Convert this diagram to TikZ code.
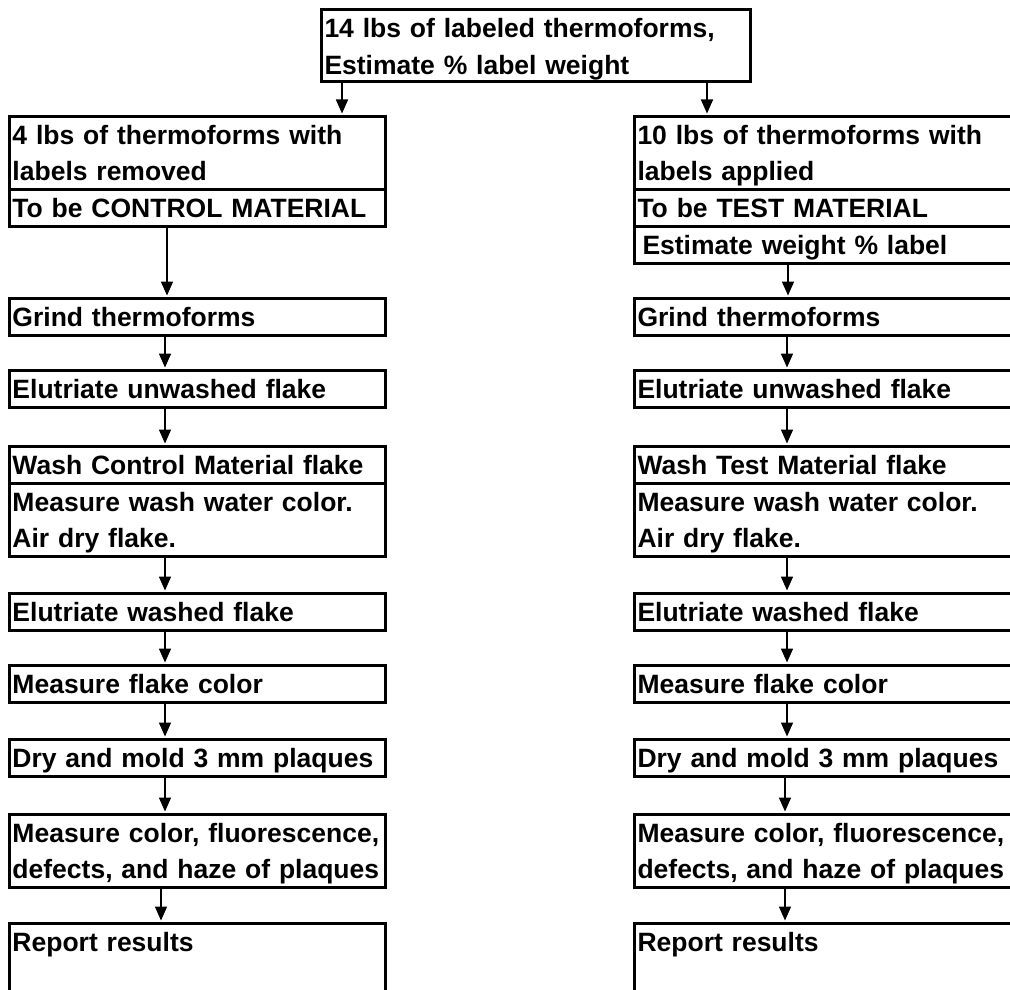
\documentclass[tikz,border=0pt]{standalone}
\usepackage{fontspec}
\setmainfont{Liberation Sans}
\usetikzlibrary{arrows.meta}
\begin{document}
\begin{tikzpicture}[x=1pt,y=-1pt,
  box/.style={draw, line width=3pt, anchor=north west, inner xsep=3pt, inner ysep=0pt,
    align=left, font=\fontsize{26.5}{36.5}\selectfont\bfseries, text height=19pt, text depth=0pt},
  lbox/.style={box, minimum width=376pt, text width=370pt},
  rbox/.style={box, minimum width=390pt, text width=384pt},
  one/.style={minimum height=37pt},
  two/.style={minimum height=73pt, text depth=36.5pt},
  last/.style={text height=28pt, text depth=80pt},
  arr/.style={line width=1.5pt, -{Triangle[width=12pt,length=14pt]}, shorten >=1.5pt}]
\useasboundingbox (0,0) rectangle (1010,990);
\clip (0,0) rectangle (1010,990);
\fill[white] (0,0) rectangle (1010,990);

\node[box, minimum width=429pt, text width=423pt, minimum height=72pt, text depth=34pt] (top) at (320,8)
  {14 lbs of labeled thermoforms,\\Estimate \% label weight};

% left column
\node[lbox,two] (l1) at (8,115) {4 lbs of thermoforms with\\labels removed};
\node[lbox,one] (l1b) at (8,188) {To be CONTROL MATERIAL};
\node[lbox,one] (l2) at (8,297) {Grind thermoforms};
\node[lbox,one] (l3) at (8,369) {Elutriate unwashed flake};
\node[lbox,one] (l4) at (8,445) {Wash Control Material flake};
\node[lbox,two] (l4b) at (8,482) {Measure wash water color.\\Air dry flake.};
\node[lbox,one] (l5) at (8,592) {Elutriate washed flake};
\node[lbox,one] (l6) at (8,664) {Measure flake color};
\node[lbox,one] (l7) at (8,738) {Dry and mold 3 mm plaques};
\node[lbox,two] (l8) at (8,813) {Measure color, fluorescence,\\defects, and haze of plaques};
\node[lbox,last] (l9) at (8,922) {Report results};

% right column
\node[rbox,two] (r1) at (633,115) {10 lbs of thermoforms with\\labels applied};
\node[rbox,one] (r1b) at (633,188) {To be TEST MATERIAL};
\node[rbox,one] (r1c) at (633,225) {\hspace*{5pt}Estimate weight \% label};
\node[rbox,one] (r2) at (633,297) {Grind thermoforms};
\node[rbox,one] (r3) at (633,369) {Elutriate unwashed flake};
\node[rbox,one] (r4) at (633,445) {Wash Test Material flake};
\node[rbox,two] (r4b) at (633,482) {Measure wash water color.\\Air dry flake.};
\node[rbox,one] (r5) at (633,592) {Elutriate washed flake};
\node[rbox,one] (r6) at (633,664) {Measure flake color};
\node[rbox,one] (r7) at (633,738) {Dry and mold 3 mm plaques};
\node[rbox,two] (r8) at (633,813) {Measure color, fluorescence,\\defects, and haze of plaques};
\node[rbox,last] (r9) at (633,922) {Report results};

% connector x positions
\coordinate (xa) at (342,0);
\coordinate (xb) at (707,0);
\coordinate (xl) at (167,0);
\coordinate (xL) at (165,0);
\coordinate (xL2) at (161,0);
\coordinate (xr) at (788,0);
\coordinate (xR) at (787,0);
\coordinate (xR2) at (785,0);

\draw[arr] (top.south -| xa) -- (l1.north -| xa);
\draw[arr] (top.south -| xb) -- (r1.north -| xb);

\draw[arr] (l1b.south -| xl) -- (l2.north -| xl);
\draw[arr] (l2.south -| xL) -- (l3.north -| xL);
\draw[arr] (l3.south -| xL) -- (l4.north -| xL);
\draw[arr] (l4b.south -| xL) -- (l5.north -| xL);
\draw[arr] (l5.south -| xL) -- (l6.north -| xL);
\draw[arr] (l6.south -| xL) -- (l7.north -| xL);
\draw[arr] (l7.south -| xL) -- (l8.north -| xL);
\draw[arr] (l8.south -| xL2) -- (l9.north -| xL2);

\draw[arr] (r1c.south -| xr) -- (r2.north -| xr);
\draw[arr] (r2.south -| xR) -- (r3.north -| xR);
\draw[arr] (r3.south -| xR) -- (r4.north -| xR);
\draw[arr] (r4b.south -| xR) -- (r5.north -| xR);
\draw[arr] (r5.south -| xR) -- (r6.north -| xR);
\draw[arr] (r6.south -| xR) -- (r7.north -| xR);
\draw[arr] (r7.south -| xR2) -- (r8.north -| xR2);
\draw[arr] (r8.south -| xR2) -- (r9.north -| xR2);
\end{tikzpicture}
\end{document}
